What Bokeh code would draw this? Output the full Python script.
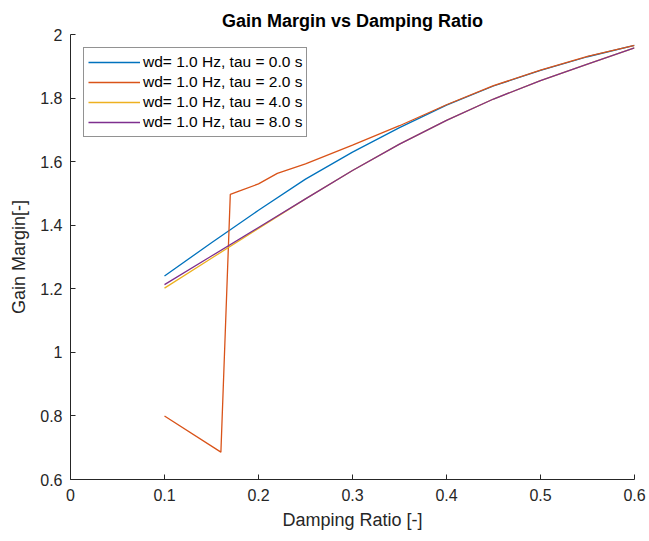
from bokeh.plotting import figure
from bokeh.models import Range1d, FixedTicker, CustomJSTickFormatter
from bokeh.embed import file_html
from bokeh.resources import INLINE

# ---- data ----
zeta_tau0 = [0.10, 0.15, 0.20, 0.25, 0.30, 0.35, 0.40, 0.45, 0.50, 0.55, 0.60]
gm_tau0 = [1.240, 1.345, 1.447, 1.545, 1.630, 1.707, 1.778, 1.838, 1.887, 1.930, 1.966]

zeta_tau2 = [0.10, 0.16, 0.17, 0.18, 0.20, 0.22, 0.25, 0.30, 0.35, 0.40, 0.45, 0.50, 0.55, 0.60]
gm_tau2 = [0.800, 0.686, 1.497, 1.508, 1.530, 1.563, 1.593, 1.652, 1.713, 1.779, 1.839, 1.888, 1.931, 1.966]

zeta_tau4 = [0.10, 0.15, 0.20, 0.25, 0.30, 0.35, 0.40, 0.45, 0.50, 0.55, 0.60]
gm_tau4 = [1.202, 1.296, 1.390, 1.483, 1.572, 1.655, 1.730, 1.797, 1.855, 1.907, 1.958]

zeta_tau8 = [0.10, 0.15, 0.20, 0.25, 0.30, 0.35, 0.40, 0.45, 0.50, 0.55, 0.60]
gm_tau8 = [1.213, 1.303, 1.393, 1.483, 1.572, 1.655, 1.730, 1.797, 1.855, 1.907, 1.958]

labels = ["wd= 1.0 Hz, tau = 0.0 s", "wd= 1.0 Hz, tau = 2.0 s",
          "wd= 1.0 Hz, tau = 4.0 s", "wd= 1.0 Hz, tau = 8.0 s"]
colors = ["#0072BD", "#D95319", "#EDB120", "#7E2F8E"]

x_ticks = [0, 0.1, 0.2, 0.3, 0.4, 0.5, 0.6]
y_ticks = [0.6, 0.8, 1.0, 1.2, 1.4, 1.6, 1.8, 2.0]

FONT = "Liberation Sans"
AX = "#262626"

p = figure(width=649, height=541, output_backend="svg", toolbar_location=None,
           x_range=Range1d(0, 0.6), y_range=Range1d(0.6, 2.0),
           min_border_left=70, min_border_right=15, min_border_top=34, min_border_bottom=62,
           title="Gain Margin vs Damping Ratio")

p.title.align = "center"
p.title.text_font = FONT
p.title.text_font_size = "18px"
p.title.text_font_style = "bold"
p.title.text_color = "#000000"
p.title.standoff = 8

p.outline_line_color = None
p.xgrid.grid_line_color = None
p.ygrid.grid_line_color = None
p.background_fill_color = "white"
p.border_fill_color = "white"

fmt = CustomJSTickFormatter(code="return (Math.round(tick*10)/10).toString();")
for ax, ticks, lab in ((p.xaxis[0], x_ticks, "Damping Ratio [-]"),
                       (p.yaxis[0], y_ticks, "Gain Margin[-]")):
    ax.ticker = FixedTicker(ticks=ticks)
    ax.formatter = fmt
    ax.axis_label = lab
    ax.axis_label_text_font = FONT
    ax.axis_label_text_font_size = "18px"
    ax.axis_label_text_font_style = "normal"
    ax.axis_label_text_color = AX
    ax.major_label_text_font = FONT
    ax.major_label_text_font_size = "16px"
    ax.major_label_text_color = AX
    ax.axis_line_color = AX
    ax.axis_line_width = 1
    ax.major_tick_line_color = AX
    ax.major_tick_in = 5
    ax.major_tick_out = 0
    ax.minor_tick_line_color = None

p.xaxis.major_label_standoff = 9
p.xaxis.axis_label_standoff = 6
p.yaxis.major_label_standoff = 8
p.yaxis.axis_label_standoff = 8

series = [(zeta_tau0, gm_tau0), (zeta_tau2, gm_tau2), (zeta_tau4, gm_tau4), (zeta_tau8, gm_tau8)]
for (xs, ys), c, lab in zip(series, colors, labels):
    p.line(xs, ys, line_color=c, line_width=1.3, legend_label=lab)

lg = p.legend[0]
lg.location = "top_left"
lg.margin = 13
lg.padding = 4
lg.spacing = 0
lg.label_height = 20
lg.glyph_height = 20
lg.glyph_width = 52
lg.label_standoff = 3
lg.label_text_font = FONT
lg.label_text_font_size = "15.5px"
lg.label_text_color = "#000000"
lg.border_line_color = AX
lg.border_line_width = 1
lg.background_fill_alpha = 1
lg.background_fill_color = "white"

open("out.html", "w").write(file_html(p, INLINE))
